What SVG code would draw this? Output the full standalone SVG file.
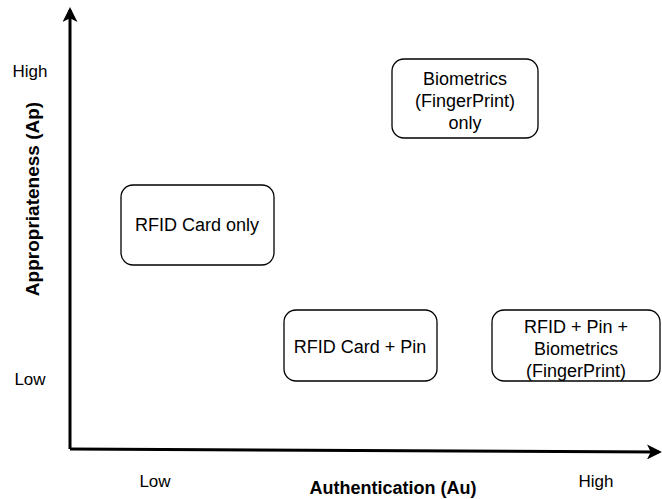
<svg xmlns="http://www.w3.org/2000/svg" width="662" height="499" viewBox="0 0 662 499">
<style>
text{font-family:"Liberation Sans",Arial,sans-serif;fill:#000}
.box{fill:#fff;stroke:#000;stroke-width:1.3}
.t{font-size:18px;text-anchor:middle}
.lab{font-size:17px;text-anchor:middle}
.ax{font-size:18px;font-weight:bold;text-anchor:middle}
.axis{stroke:#000;stroke-width:3;fill:none}
</style>
<defs>
<marker id="ah" viewBox="0 0 10 10" refX="8" refY="5" markerWidth="5" markerHeight="5" orient="auto" markerUnits="strokeWidth">
<path d="M0,0 L10,5 L0,10 L2.5,5 Z" fill="#000"/>
</marker>
</defs>
<rect width="662" height="499" fill="#fff"/>
<g id="connectors">
<path class="axis" d="M70,449 L70,10" marker-end="url(#ah)"/>
<path class="axis" d="M70,449 L659,452" marker-end="url(#ah)"/>
</g>
<g id="n-bio">
<rect class="box" x="392" y="59" width="146" height="79" rx="12"/>
<text class="t" x="465" y="85">Biometrics</text>
<text class="t" x="465" y="107">(FingerPrint)</text>
<text class="t" x="465" y="129">only</text>
</g>
<g id="n-rfid">
<rect class="box" x="121" y="185" width="153" height="80" rx="12"/>
<text class="t" x="197" y="231">RFID Card only</text>
</g>
<g id="n-rfidpin">
<rect class="box" x="284" y="310" width="153" height="71" rx="12"/>
<text class="t" x="360" y="353">RFID Card + Pin</text>
</g>
<g id="n-all">
<rect class="box" x="492" y="310" width="168" height="71" rx="12"/>
<text class="t" x="576" y="333">RFID + Pin +</text>
<text class="t" x="576" y="355">Biometrics</text>
<text class="t" x="576" y="377">(FingerPrint)</text>
</g>
<g id="labels">
<text class="lab" x="30" y="77">High</text>
<text class="lab" x="30" y="385">Low</text>
<text class="lab" x="155" y="487">Low</text>
<text class="lab" x="596" y="487">High</text>
<text class="ax" x="393" y="494">Authentication (Au)</text>
<text class="ax" style="font-size:19px" transform="translate(39,199) rotate(-90)" x="0" y="0">Appropriateness (Ap)</text>
</g>
</svg>
